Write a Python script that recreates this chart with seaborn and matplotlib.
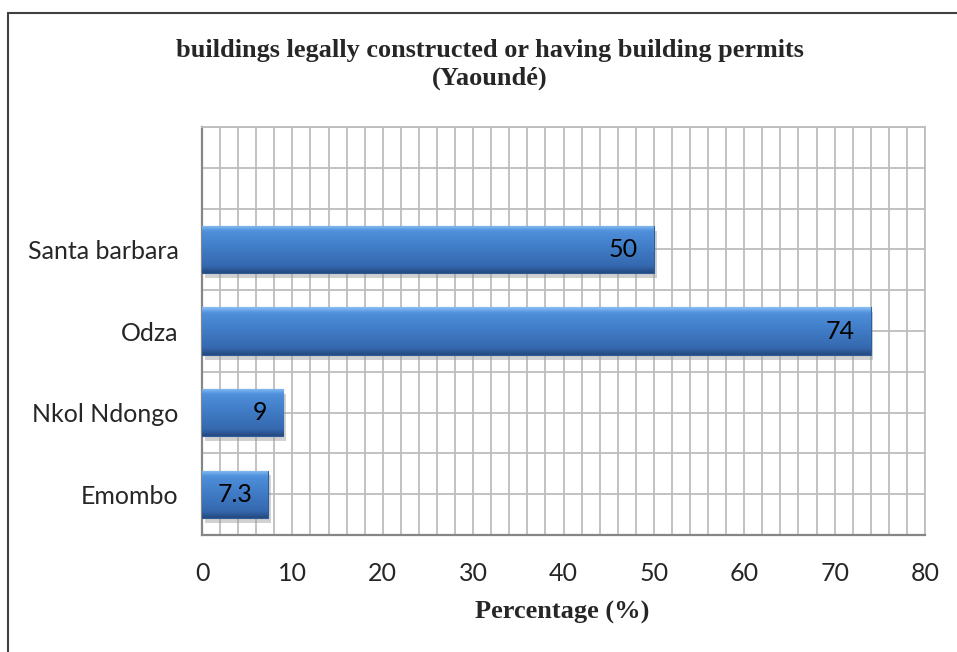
import numpy as np
import pandas as pd
import matplotlib
matplotlib.use("Agg")
import matplotlib.pyplot as plt
import seaborn as sns
from matplotlib.colors import LinearSegmentedColormap

# data (top slot of the chart is empty)
areas = ["Santa barbara", "Odza", "Nkol Ndongo", "Emombo"]
values = [50, 74, 9, 7.3]
order = [" "] + areas
x_ticks = [0, 10, 20, 30, 40, 50, 60, 70, 80]

df = pd.DataFrame({"area": areas, "pct": values})

sns.set_theme(style="white")
plt.rcParams["font.family"] = ["Lato", "DejaVu Sans"]

fig = plt.figure(figsize=(9.57, 6.52), dpi=100)
ax = fig.add_axes([202 / 957, 1 - 535 / 652, 723 / 957, 408 / 652])

sns.barplot(data=df, x="pct", y="area", order=order, orient="h",
            color="#3C78C3", width=0.58, saturation=1, ax=ax, zorder=3,
            edgecolor="#2E5E98", linewidth=0.8)

ax.set_xlim(0, 80)
ax.set_ylim(len(order) - 0.5, -0.5)

# grid: vertical every 2, horizontal every half slot
ax.set_xticks(x_ticks)
ax.set_xticks(np.arange(0, 81, 2), minor=True)
ax.set_yticks(np.arange(len(order)))
ax.set_yticks(np.arange(-0.5, len(order), 0.5), minor=True)
ax.grid(which="minor", color="#BDBDBD", linewidth=1.3, zorder=0)
ax.grid(which="major", color="#BDBDBD", linewidth=1.3, zorder=0)
ax.set_axisbelow(True)

# bevel-like gradient on the bars
cmap = LinearSegmentedColormap.from_list(
    "bev", [(0.0, "#8CC0F5"), (0.12, "#4F8FDB"), (0.5, "#3F7BC5"),
            (0.86, "#3568AE"), (1.0, "#24497F")])
grad = np.linspace(0, 1, 200).reshape(-1, 1)
for p in ax.patches:
    x0, y0 = p.get_x(), p.get_y()
    w, h = p.get_width(), p.get_height()
    if not np.isfinite(w) or w == 0:
        continue
    # soft shadow
    sh = plt.Rectangle((x0 + 0.3, y0 + 0.06), w, h, color="#9A9A9A", alpha=0.45, zorder=2, lw=0)
    ax.add_patch(sh)
    im = ax.imshow(grad, extent=[x0, x0 + w, y0 + h, y0], aspect="auto",
                   cmap=cmap, zorder=3.5, interpolation="bicubic")
    im.set_clip_path(p)

ax.set_xlim(0, 80)
ax.set_ylim(len(order) - 0.5, -0.5)

# value labels inside bar ends
for a, v in zip(areas, values):
    ax.annotate(f"{v:g}", xy=(v, order.index(a)), xytext=(-11.5, 0),
                textcoords="offset points", ha="right", va="center",
                fontsize=18, color="black", zorder=5)

ax.set_yticklabels(order, fontsize=18)
ax.set_xticklabels([str(t) for t in x_ticks], fontsize=18)
ax.tick_params(axis="y", which="both", length=0, pad=17)
ax.tick_params(axis="x", which="both", length=0, pad=19.5)
ax.set_ylabel("")
ax.set_xlabel("Percentage (%)", fontsize=19, fontweight="bold",
              family="Liberation Serif", va="center")
ax.xaxis.set_label_coords(0.5 + (562 - 563.5) / 723, (535 - 612) / 408)

for s in ["left", "bottom"]:
    ax.spines[s].set_color("#868686")
    ax.spines[s].set_linewidth(1.6)
for s in ["top", "right"]:
    ax.spines[s].set_color("#BDBDBD")
    ax.spines[s].set_linewidth(1.3)

fig.text(490 / 957, 1 - 51 / 652, "buildings legally constructed or having building permits",
         ha="center", va="center", fontsize=18.9, fontweight="bold", family="Liberation Serif")
fig.text(490 / 957, 1 - 78 / 652, "(Yaoundé)",
         ha="center", va="center", fontsize=18.9, fontweight="bold", family="Liberation Serif")

# outer chart frame
fig.add_artist(plt.Line2D([8 / 957, 8 / 957], [0, 1 - 13 / 652], transform=fig.transFigure,
                          color="#404040", lw=1.5))
fig.add_artist(plt.Line2D([8 / 957, 1], [1 - 13 / 652, 1 - 13 / 652], transform=fig.transFigure,
                          color="#404040", lw=1.5))

fig.savefig("out.png", dpi=100)
